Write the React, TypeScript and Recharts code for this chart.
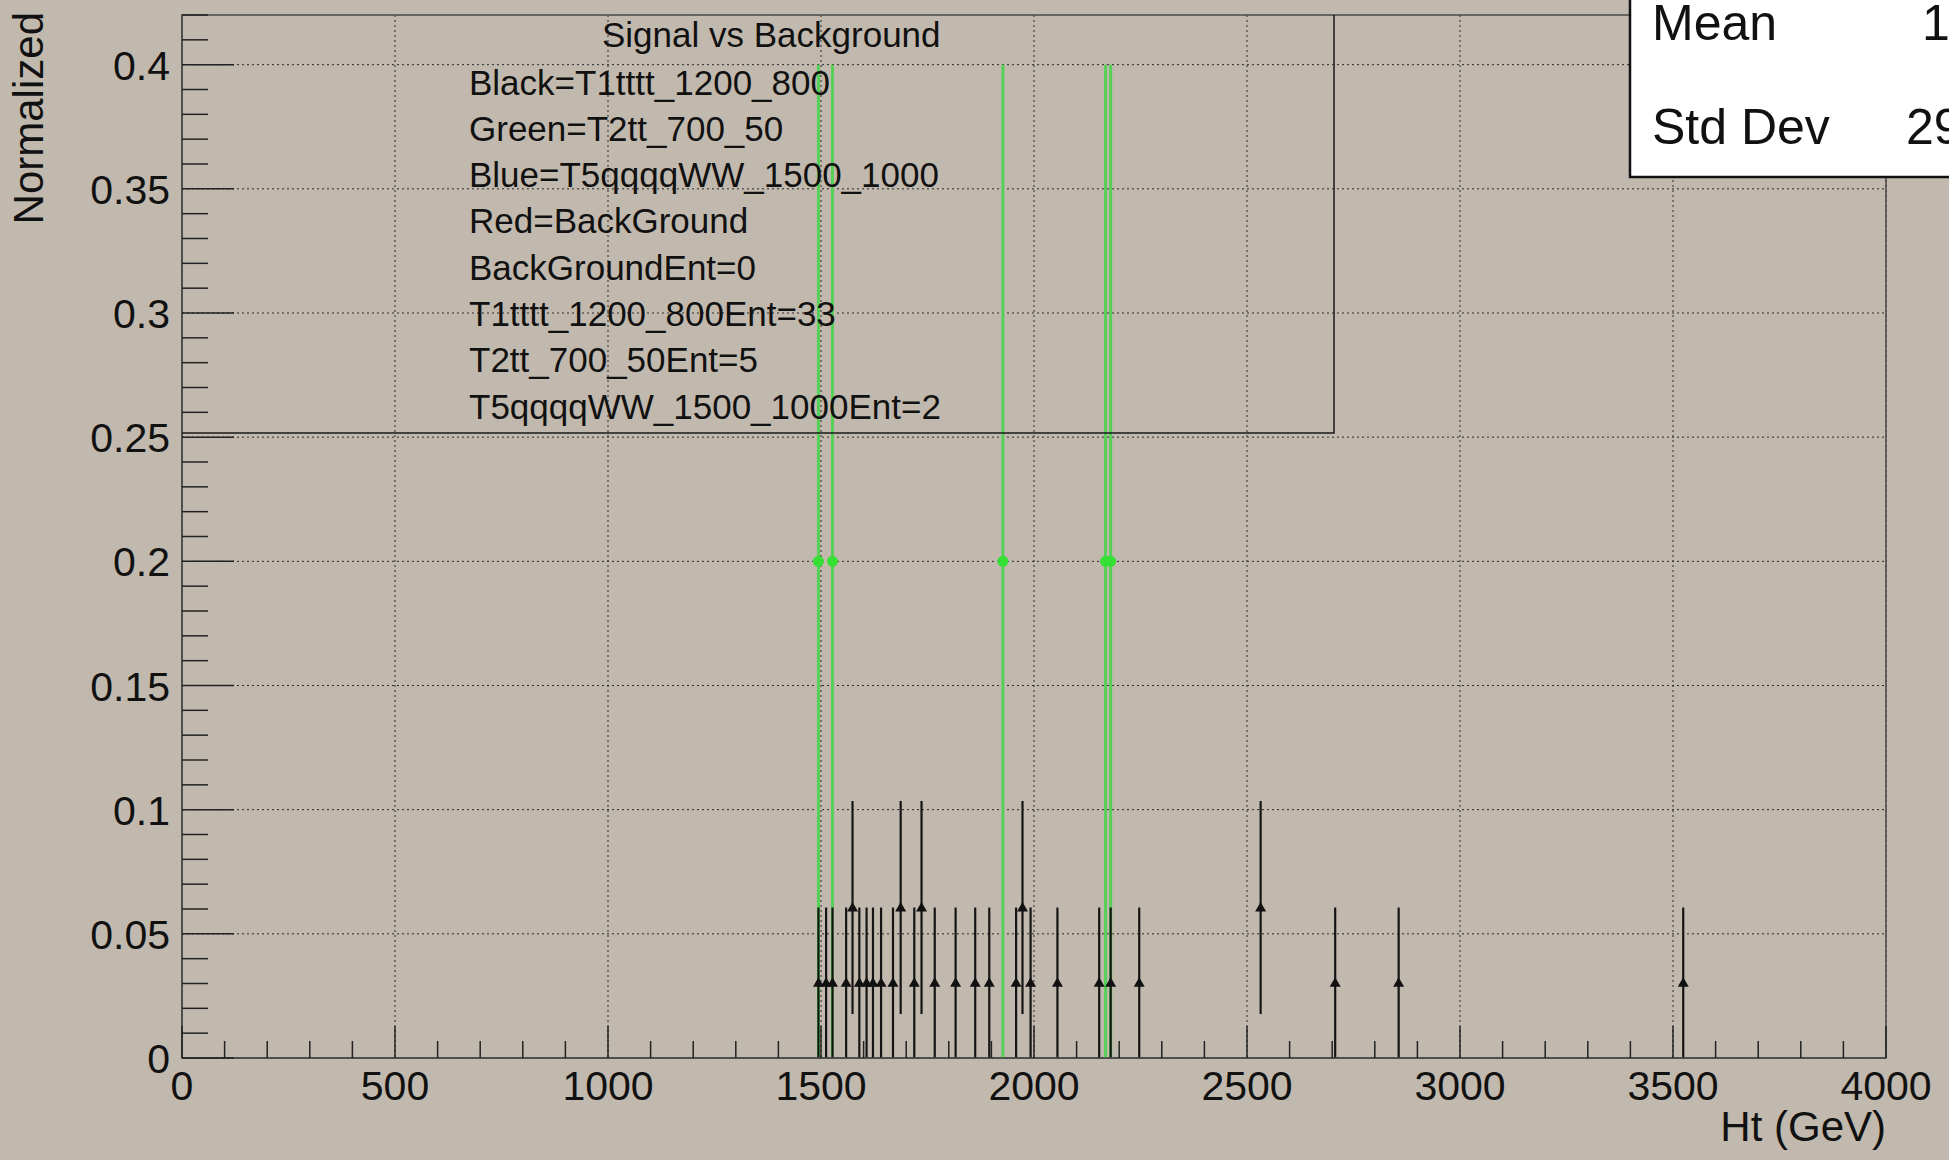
import {
  CartesianGrid,
  ErrorBar,
  ReferenceArea,
  Scatter,
  ScatterChart,
  XAxis,
  YAxis,
} from 'recharts';

// Ht bin positions (GeV) of the T1tttt_1200_800 histogram
const BLACK_HT = [
  1494, 1512, 1527, 1559, 1574, 1590, 1607, 1622, 1641, 1669, 1687, 1719, 1736, 1767,
  1816, 1862, 1895, 1958, 1973, 1992, 2055, 2153, 2180, 2247, 2532, 2707, 2856, 3524,
];
// normalized content per bin (1 or 2 entries out of 33)
const BLACK_NORM = [
  0.0303, 0.0303, 0.0303, 0.0303, 0.0606, 0.0303, 0.0303, 0.0303, 0.0303, 0.0303, 0.0606,
  0.0303, 0.0606, 0.0303, 0.0303, 0.0303, 0.0303, 0.0303, 0.0606, 0.0303, 0.0303, 0.0303,
  0.0303, 0.0303, 0.0606, 0.0303, 0.0303, 0.0303,
];
const BLACK_ERR = [
  0.0303, 0.0303, 0.0303, 0.0303, 0.0429, 0.0303, 0.0303, 0.0303, 0.0303, 0.0303, 0.0429,
  0.0303, 0.0429, 0.0303, 0.0303, 0.0303, 0.0303, 0.0303, 0.0429, 0.0303, 0.0303, 0.0303,
  0.0303, 0.0303, 0.0429, 0.0303, 0.0303, 0.0303,
];

// T2tt_700_50 (5 entries)
const GREEN_HT = [1494, 1527, 1927, 2168, 2180];
const GREEN_NORM = [0.2, 0.2, 0.2, 0.2, 0.2];
const GREEN_ERR = [0.2, 0.2, 0.2, 0.2, 0.2];

const X_MAJOR = [0, 500, 1000, 1500, 2000, 2500, 3000, 3500, 4000];
const X_MINOR_STEP = 100;
const Y_MAJOR = [0, 0.05, 0.1, 0.15, 0.2, 0.25, 0.3, 0.35, 0.4];
const Y_MINOR_STEP = 0.01;
const X_DOMAIN: [number, number] = [0, 4000];
const Y_DOMAIN: [number, number] = [0, 0.42];

const LEGEND_TITLE = 'Signal vs Background';
const LEGEND_LINES = [
  'Black=T1tttt_1200_800',
  'Green=T2tt_700_50',
  'Blue=T5qqqqWW_1500_1000',
  'Red=BackGround',
  'BackGroundEnt=0',
  'T1tttt_1200_800Ent=33',
  'T2tt_700_50Ent=5',
  'T5qqqqWW_1500_1000Ent=2',
];
const STATS = [
  { name: 'Mean', value: '1' },
  { name: 'Std Dev', value: '29' },
];

const FONT = '"Liberation Sans", Arial, Helvetica, sans-serif';
const BG = '#c2b9ae';
const W = 1949;
const H = 1160;

const xTicks: number[] = [];
for (let v = X_DOMAIN[0]; v <= X_DOMAIN[1]; v += X_MINOR_STEP) xTicks.push(v);
const yTicks: number[] = [];
for (let i = 0; i <= Math.round(Y_DOMAIN[1] / Y_MINOR_STEP); i++) yTicks.push(+(i * Y_MINOR_STEP).toFixed(2));

const blackData = BLACK_HT.map((x, i) => ({ x, y: BLACK_NORM[i], err: BLACK_ERR[i] }));
const greenData = GREEN_HT.map((x, i) => ({ x, y: GREEN_NORM[i], err: GREEN_ERR[i] }));

function XTick(props: any) {
  const { x, y, payload } = props;
  const major = X_MAJOR.includes(payload.value);
  return (
    <g>
      <line x1={x} x2={x} y1={y} y2={y - (major ? 32 : 17)} stroke="#222" strokeWidth={1.5} />
      {major && (
        <text x={x} y={y + 42} textAnchor="middle" fontSize={41} fontFamily={FONT} fill="#111">
          {payload.value}
        </text>
      )}
    </g>
  );
}

function YTick(props: any) {
  const { x, y, payload } = props;
  const major = Y_MAJOR.some((m) => Math.abs(m - payload.value) < 1e-6);
  return (
    <g>
      <line x1={x} x2={x + (major ? 52 : 26)} y1={y} y2={y} stroke="#222" strokeWidth={1.5} />
      {major && (
        <text x={x - 12} y={y + 15} textAnchor="end" fontSize={41} fontFamily={FONT} fill="#111">
          {String(+payload.value.toFixed(2))}
        </text>
      )}
    </g>
  );
}

const triangle = (props: any) => {
  const { cx, cy } = props;
  return (
    <polygon
      points={`${cx - 5.5},${cy + 4} ${cx + 5.5},${cy + 4} ${cx},${cy - 5.5}`}
      fill="#111"
    />
  );
};

const greenDot = (props: any) => <circle cx={props.cx} cy={props.cy} r={5.5} fill="#33e033" />;

export default function App() {
  return (
    <div style={{ position: 'absolute', left: 0, top: 0, width: W, height: H, background: BG, overflow: 'hidden' }}>
      <ScatterChart width={W} height={H} margin={{ top: 15, right: 63, bottom: 101, left: 181 }}>
        <CartesianGrid
          stroke="#2a2a2a"
          strokeWidth={1}
          strokeDasharray="2 3"
          verticalValues={X_MAJOR}
          horizontalValues={Y_MAJOR}
        />
        <XAxis
          type="number"
          dataKey="x"
          domain={X_DOMAIN}
          ticks={xTicks}
          interval={0}
          tick={(p: any) => <XTick {...p} />}
          tickLine={false}
          tickSize={0}
          tickMargin={0}
          height={1}
          axisLine={{ stroke: '#4a4a4a', strokeWidth: 1.5 }}
          allowDataOverflow
        />
        <YAxis
          type="number"
          dataKey="y"
          domain={Y_DOMAIN}
          ticks={yTicks}
          interval={0}
          tick={(p: any) => <YTick {...p} />}
          tickLine={false}
          tickSize={0}
          tickMargin={0}
          width={1}
          axisLine={{ stroke: '#4a4a4a', strokeWidth: 1.5 }}
          allowDataOverflow
        />
        <ReferenceArea
          x1={X_DOMAIN[0]}
          x2={X_DOMAIN[1]}
          y1={Y_DOMAIN[0]}
          y2={Y_DOMAIN[1]}
          fill="none"
          fillOpacity={0}
          stroke="#4a4a4a"
          strokeWidth={1.5}
        />
        <Scatter data={greenData} shape={greenDot} isAnimationActive={false}>
          <ErrorBar dataKey="err" direction="y" width={0} stroke="#56d056" strokeWidth={3} />
        </Scatter>
        <Scatter data={blackData} shape={triangle} isAnimationActive={false}>
          <ErrorBar dataKey="err" direction="y" width={0} stroke="#151515" strokeWidth={2.2} />
        </Scatter>
      </ScatterChart>

      <svg
        width={W}
        height={H}
        style={{ position: 'absolute', left: 0, top: 0, pointerEvents: 'none' }}
        fontFamily={FONT}
      >
        {/* legend pave */}
        <polyline points="182,433 1334,433 1334,15" fill="none" stroke="#1a1a1a" strokeWidth={1.5} />
        <text x={602} y={47} fontSize={35} fill="#111">
          {LEGEND_TITLE}
        </text>
        {LEGEND_LINES.map((t, i) => (
          <text key={t} x={469} y={94.5 + i * 46.3} fontSize={35} fill="#111">
            {t}
          </text>
        ))}

        {/* stats box */}
        <rect x={1630} y={-5} width={340} height={182} fill="#fff" stroke="#111" strokeWidth={2.5} />
        {STATS.map((s, i) => (
          <g key={s.name}>
            <text x={1652} y={40 + i * 104} fontSize={50} fill="#111">
              {s.name}
            </text>
            <text x={i === 0 ? 1922 : 1906} y={40 + i * 104} fontSize={50} fill="#111">
              {s.value}
            </text>
          </g>
        ))}

        {/* axis titles */}
        <text transform="translate(43,12) rotate(-90)" textAnchor="end" fontSize={42} fill="#111">
          Normalized
        </text>
        <text x={1886} y={1141} textAnchor="end" fontSize={42} fill="#111">
          Ht (GeV)
        </text>
      </svg>
    </div>
  );
}
